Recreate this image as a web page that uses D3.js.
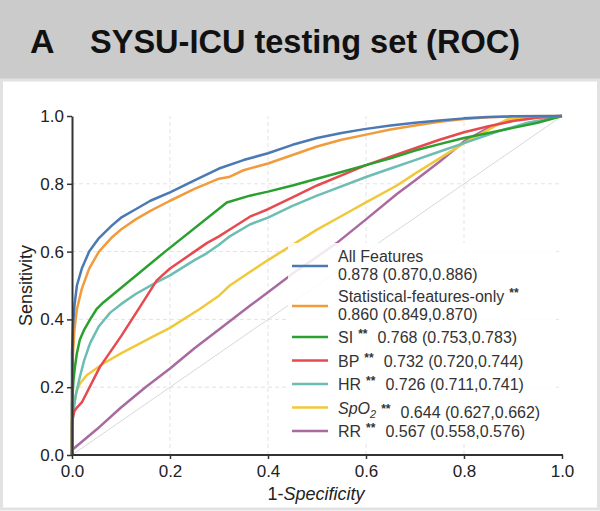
<html>
<head>
  <title>SYSU-ICU testing set (ROC)</title>
  <script src="https://d3js.org/d3.v7.min.js"></script>
  <style>
    body { margin: 0; background: #ffffff; }
    text { font-family: "Liberation Sans", Arial, sans-serif; }
  </style>
</head>
<body>
  <svg id="roc" width="600" height="511"></svg>

  <script>
    // ROC curves, [1-specificity, sensitivity]
    const allFeatures = [[0,0],[0,0.3],[0.002,0.38],[0.005,0.44],[0.01,0.5],[0.02,0.55],[0.035,0.6],[0.055,0.64],[0.08,0.675],[0.1,0.7],[0.13,0.725],[0.16,0.75],[0.2,0.775],[0.25,0.81],[0.3,0.845],[0.35,0.87],[0.4,0.89],[0.45,0.915],[0.5,0.935],[0.55,0.95],[0.6,0.962],[0.65,0.972],[0.7,0.98],[0.75,0.987],[0.8,0.993],[0.85,0.997],[0.9,0.999],[1,1]];
    const statOnly = [[0,0],[0,0.2],[0.002,0.3],[0.005,0.37],[0.01,0.43],[0.02,0.49],[0.035,0.55],[0.055,0.6],[0.08,0.64],[0.1,0.665],[0.13,0.695],[0.16,0.72],[0.2,0.75],[0.25,0.785],[0.3,0.815],[0.32,0.82],[0.35,0.84],[0.4,0.86],[0.45,0.885],[0.5,0.91],[0.55,0.93],[0.6,0.945],[0.65,0.96],[0.7,0.972],[0.75,0.983],[0.8,0.991],[0.85,0.996],[0.9,0.999],[1,1]];
    const siCurve = [[0,0],[0,0.15],[0.003,0.22],[0.006,0.26],[0.01,0.3],[0.016,0.34],[0.025,0.37],[0.037,0.4],[0.05,0.43],[0.064,0.45],[0.19,0.6],[0.316,0.745],[0.363,0.765],[0.4,0.777],[0.45,0.795],[0.5,0.815],[0.55,0.835],[0.6,0.855],[0.65,0.875],[0.7,0.898],[0.75,0.917],[0.8,0.935],[0.85,0.95],[0.9,0.965],[0.95,0.98],[1,1]];
    const bpCurve = [[0,0],[0,0.1],[0.005,0.13],[0.01,0.14],[0.02,0.155],[0.057,0.26],[0.1,0.35],[0.14,0.44],[0.173,0.515],[0.2,0.55],[0.25,0.6],[0.275,0.625],[0.3,0.645],[0.322,0.665],[0.363,0.703],[0.4,0.725],[0.45,0.76],[0.5,0.795],[0.55,0.825],[0.6,0.855],[0.65,0.88],[0.7,0.905],[0.75,0.93],[0.8,0.952],[0.85,0.97],[0.9,0.985],[0.95,0.995],[1,1]];
    const hrCurve = [[0,0],[0,0.08],[0.003,0.13],[0.008,0.18],[0.016,0.23],[0.025,0.28],[0.037,0.33],[0.055,0.38],[0.078,0.42],[0.1,0.445],[0.13,0.475],[0.173,0.51],[0.2,0.53],[0.25,0.575],[0.275,0.595],[0.3,0.62],[0.322,0.645],[0.363,0.68],[0.4,0.7],[0.45,0.735],[0.5,0.765],[0.527,0.78],[0.6,0.82],[0.65,0.845],[0.7,0.87],[0.73,0.885],[0.8,0.92],[0.87,0.955],[0.93,0.98],[1,1]];
    const spo2Curve = [[0,0],[0,0.1],[0.004,0.15],[0.01,0.19],[0.016,0.21],[0.03,0.235],[0.064,0.27],[0.1,0.3],[0.166,0.35],[0.2,0.375],[0.26,0.43],[0.3,0.47],[0.322,0.5],[0.363,0.54],[0.4,0.575],[0.45,0.62],[0.5,0.665],[0.55,0.705],[0.6,0.745],[0.663,0.795],[0.7,0.83],[0.75,0.875],[0.8,0.92],[0.85,0.96],[0.888,0.99],[0.95,0.998],[1,1]];
    const rrCurve = [[0,0],[0,0.015],[0.05,0.075],[0.1,0.14],[0.15,0.2],[0.2,0.255],[0.25,0.315],[0.3,0.37],[0.363,0.44],[0.4,0.48],[0.45,0.535],[0.5,0.585],[0.54,0.625],[0.6,0.695],[0.663,0.77],[0.7,0.81],[0.75,0.865],[0.8,0.925],[0.85,0.965],[0.894,0.99],[0.95,0.998],[1,1]];

    const seriesNames = ["All Features", "Statistical-features-only", "SI", "BP", "HR", "SpO2", "RR"];
    const aucLabels = ["0.878 (0.870,0.886)", "0.860 (0.849,0.870)", "0.768 (0.753,0.783)", "0.732 (0.720,0.744)", "0.726 (0.711,0.741)", "0.644 (0.627,0.662)", "0.567 (0.558,0.576)"];
    const significant = [false, true, true, true, true, true, true];
    const curves = [allFeatures, statOnly, siCurve, bpCurve, hrCurve, spo2Curve, rrCurve];
    const tickValues = [0, 0.2, 0.4, 0.6, 0.8, 1.0];

    const color = d3.scaleOrdinal()
      .domain(seriesNames)
      .range(["#4b79b3", "#f29b3c", "#29a02f", "#e6494f", "#6cbdb3", "#f0c93b", "#a86a9f"]);

    const svg = d3.select("#roc");

    // grey title band + light frame
    svg.append("rect").attr("x", 0).attr("y", 0).attr("width", 600).attr("height", 80).attr("fill", "#cbcbcb");
    svg.append("rect").attr("x", 1.5).attr("y", 80).attr("width", 597).attr("height", 429)
      .attr("fill", "none").attr("stroke", "#e2e2e2").attr("stroke-width", 3);

    const title = svg.append("g")
      .style("font-family", "'Open Sans', sans-serif")
      .style("font-weight", 600)
      .style("font-size", "34px")
      .attr("fill", "#111");
    title.append("text").attr("x", 30).attr("y", 53).text("A");
    title.append("text").attr("x", 90).attr("y", 53)
      .attr("textLength", 430).attr("lengthAdjust", "spacingAndGlyphs")
      .text("SYSU-ICU testing set (ROC)");

    // plot area
    const x = d3.scaleLinear().domain([0, 1]).range([72, 562]);
    const y = d3.scaleLinear().domain([0, 1]).range([455, 116]);

    // dashed grid
    const inner = tickValues.filter(d => d > 0 && d < 1);
    svg.append("g").selectAll("line.h").data(inner).join("line")
      .attr("x1", x(0)).attr("x2", x(1)).attr("y1", d => y(d)).attr("y2", d => y(d))
      .attr("stroke", "#e3e3e3").attr("stroke-dasharray", "4,3");
    svg.append("g").selectAll("line.v").data(inner).join("line")
      .attr("y1", y(0)).attr("y2", y(1)).attr("x1", d => x(d)).attr("x2", d => x(d))
      .attr("stroke", "#e3e3e3").attr("stroke-dasharray", "4,3");

    // chance diagonal
    svg.append("line")
      .attr("x1", x(0)).attr("y1", y(0)).attr("x2", x(1)).attr("y2", y(1))
      .attr("stroke", "#d8d8d8").attr("stroke-width", 1);

    const line = d3.line().x(d => x(d[0])).y(d => y(d[1]));

    // draw in reverse so All Features sits on top
    d3.range(curves.length).reverse().forEach(i => {
      svg.append("path")
        .datum(curves[i])
        .attr("d", line)
        .attr("fill", "none")
        .attr("stroke", color(seriesNames[i]))
        .attr("stroke-width", 2.5)
        .attr("stroke-linejoin", "round");
    });

    // axes
    const fmt = d3.format(".1f");
    const yAxis = svg.append("g").attr("transform", `translate(${x(0)},0)`)
      .call(d3.axisLeft(y).tickValues(tickValues).tickFormat(fmt).tickSize(5).tickSizeOuter(0).tickPadding(3));
    const xAxis = svg.append("g").attr("transform", `translate(0,${y(0)})`)
      .call(d3.axisBottom(x).tickValues(tickValues).tickFormat(fmt).tickSize(4).tickSizeOuter(0).tickPadding(6));
    xAxis.select(".domain").attr("d", `M${x(0)},0H${x(1) + 1}`);

    [xAxis, yAxis].forEach(ax => {
      ax.select(".domain").attr("stroke", "#333").attr("stroke-width", 2);
      ax.selectAll(".tick line").attr("stroke", "#333").attr("stroke-width", 1.5);
      ax.selectAll(".tick text")
        .attr("fill", "#222")
        .style("font-size", "17px")
        .style("font-family", "'Liberation Sans', Arial, sans-serif");
    });

    svg.append("text")
      .attr("transform", `translate(32,${(y(0) + y(1)) / 2}) rotate(-90)`)
      .attr("text-anchor", "middle")
      .attr("fill", "#222")
      .style("font-size", "18px")
      .text("Sensitivity");

    const xLabel = svg.append("text")
      .attr("x", (x(0) + x(1)) / 2 - 1).attr("y", 500)
      .attr("text-anchor", "middle")
      .attr("fill", "#222")
      .style("font-size", "18px");
    xLabel.append("tspan").text("1-");
    xLabel.append("tspan").style("font-style", "italic").text("Specificity");

    // legend
    const legend = svg.append("g");
    legend.append("rect")
      .attr("x", 288).attr("y", 243).attr("width", 268).attr("height", 200)
      .attr("fill", "#fff").attr("fill-opacity", 0.85);

    const rowY = [266, 306, 337, 360.5, 384, 407.5, 431];
    const textX = 338;

    function addStars(t) {
      t.append("tspan").attr("dx", 5).attr("dy", -5).style("font-size", "12px").style("font-weight", "bold").text("**");
    }

    seriesNames.forEach((name, i) => {
      const yy = rowY[i];
      legend.append("line")
        .attr("x1", 292).attr("x2", 328).attr("y1", yy).attr("y2", yy)
        .attr("stroke", color(name)).attr("stroke-width", 2.5);

      if (i < 2) {
        const t1 = legend.append("text").attr("x", textX).attr("y", yy - 4)
          .attr("fill", "#333").style("font-size", "16px").text(name);
        if (significant[i]) addStars(t1);
        legend.append("text").attr("x", textX).attr("y", yy + 14)
          .attr("fill", "#333").style("font-size", "16px").text(aucLabels[i]);
      } else {
        const t = legend.append("text").attr("x", textX).attr("y", yy + 6)
          .attr("fill", "#333").style("font-size", "16px");
        if (name === "SpO2") {
          t.append("tspan").style("font-style", "italic").text("SpO");
          t.append("tspan").style("font-style", "italic").style("font-size", "11px").attr("dy", 4).text("2");
          t.append("tspan").attr("dy", -4).text("");
        } else {
          t.append("tspan").text(name);
        }
        if (significant[i]) addStars(t);
        t.append("tspan").attr("dx", 10).attr("dy", 5).text(aucLabels[i]);
      }
    });
  </script>
</body>
</html>
